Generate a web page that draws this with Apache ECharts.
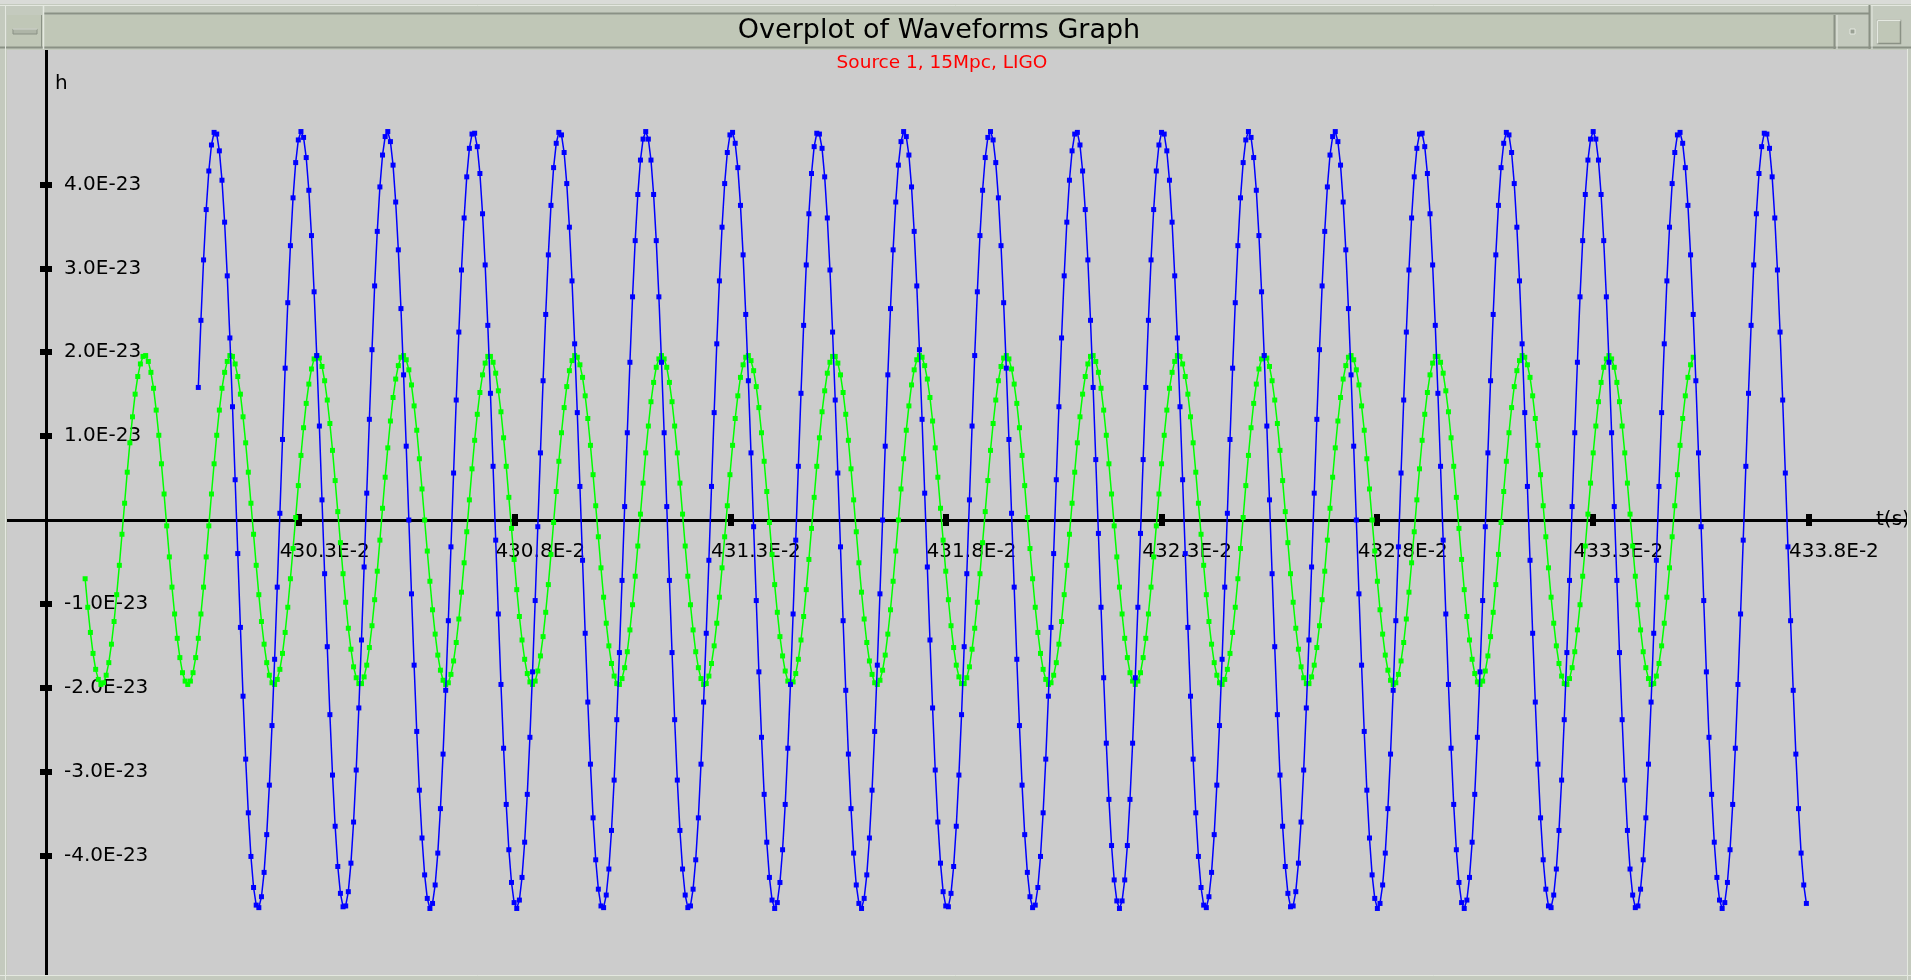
<!DOCTYPE html>
<html>
<head>
<meta charset="utf-8">
<script src="https://cdn.jsdelivr.net/npm/echarts@6/dist/echarts.min.js"></script>
<style>
html,body{margin:0;padding:0;background:#cccccc;overflow:hidden}
#chart{width:1911px;height:980px}
</style>
</head>
<body>
<div id="chart"></div>
<script>
// ---- data (strain h in units of 1E-23, sampled every 1/16384 s) ----
const chartTitle = 'Overplot of Waveforms Graph';
const chartSubtitle = 'Source 1, 15Mpc, LIGO';
const blueStartTime = 4.30066;     // s
const greenStartTime = 4.2980355;  // s
const sampleStep = 1 / 16384;      // s
const xTickValues = [4.303, 4.308, 4.313, 4.318, 4.323, 4.328, 4.333, 4.338];
const yTickValues = [-4, -3, -2, -1, 1, 2, 3, 4];

const blueStrain = [
 1.58,2.38,3.10,3.70,4.16,4.47,4.62,4.60,4.40,4.05,3.55,2.91,2.17,1.35,0.48,-0.40,-1.28,-2.10,-2.85,-3.49,-4.01,-4.38,-4.59,-4.62,-4.49,-4.20,-3.75,-3.16,-2.45,-1.66,-0.80,
 0.08,0.96,1.81,2.59,3.27,3.84,4.26,4.53,4.63,4.56,4.32,3.93,3.39,2.72,1.96,1.12,0.24,-0.64,-1.51,-2.32,-3.04,-3.65,-4.13,-4.45,-4.61,-4.60,-4.43,-4.09,-3.60,-2.98,-2.24,-1.43,-0.56,
 0.32,1.20,2.03,2.79,3.44,3.97,4.35,4.57,4.63,4.51,4.23,3.79,3.22,2.52,1.73,0.88,0.00,-0.88,-1.73,-2.52,-3.22,-3.79,-4.23,-4.51,-4.63,-4.57,-4.35,-3.97,-3.44,-2.79,-2.03,-1.20,-0.32,
 0.56,1.43,2.24,2.98,3.60,4.09,4.43,4.60,4.61,4.45,4.13,3.65,3.04,2.32,1.51,0.64,-0.24,-1.12,-1.96,-2.72,-3.39,-3.93,-4.32,-4.56,-4.63,-4.53,-4.26,-3.84,-3.27,-2.59,-1.81,-0.96,-0.08,
 0.80,1.66,2.45,3.16,3.75,4.20,4.49,4.62,4.59,4.38,4.01,3.49,2.85,2.10,1.28,0.40,-0.48,-1.35,-2.17,-2.91,-3.55,-4.05,-4.40,-4.60,-4.62,-4.47,-4.16,-3.70,-3.10,-2.38,-1.58,-0.72,
 0.16,1.04,1.88,2.66,3.33,3.88,4.29,4.54,4.63,4.54,4.29,3.88,3.33,2.66,1.88,1.04,0.16,-0.72,-1.58,-2.38,-3.10,-3.70,-4.16,-4.47,-4.62,-4.60,-4.40,-4.05,-3.55,-2.91,-2.17,-1.35,-0.48,
 0.40,1.28,2.10,2.85,3.49,4.01,4.38,4.59,4.62,4.49,4.20,3.75,3.16,2.45,1.66,0.80,-0.08,-0.96,-1.81,-2.59,-3.27,-3.84,-4.26,-4.53,-4.63,-4.56,-4.32,-3.93,-3.39,-2.72,-1.96,-1.12,-0.24,
 0.64,1.51,2.32,3.04,3.65,4.13,4.45,4.61,4.60,4.43,4.09,3.60,2.98,2.24,1.43,0.56,-0.32,-1.20,-2.03,-2.79,-3.44,-3.97,-4.35,-4.57,-4.63,-4.51,-4.23,-3.79,-3.22,-2.52,-1.73,-0.88,
 0.00,0.88,1.73,2.52,3.22,3.79,4.23,4.51,4.63,4.57,4.35,3.97,3.44,2.79,2.03,1.20,0.32,-0.56,-1.43,-2.24,-2.98,-3.60,-4.09,-4.43,-4.60,-4.61,-4.45,-4.13,-3.65,-3.04,-2.32,-1.51,-0.64,
 0.24,1.12,1.96,2.72,3.39,3.93,4.32,4.56,4.63,4.53,4.26,3.84,3.27,2.59,1.81,0.96,0.08,-0.80,-1.66,-2.45,-3.16,-3.75,-4.20,-4.49,-4.62,-4.59,-4.38,-4.01,-3.49,-2.85,-2.10,-1.28,-0.40,
 0.48,1.35,2.17,2.91,3.55,4.05,4.40,4.60,4.62,4.47,4.16,3.70,3.10,2.38,1.58,0.72,-0.16,-1.04,-1.88,-2.66,-3.33,-3.88,-4.29,-4.54,-4.63,-4.54,-4.29,-3.88,-3.33,-2.66,-1.88,-1.04,-0.16,
 0.72,1.58,2.38,3.10,3.70,4.16,4.47,4.62,4.60,4.40,4.05,3.55,2.91,2.17,1.35,0.48,-0.40,-1.28,-2.10,-2.85,-3.49,-4.01,-4.38,-4.59,-4.62,-4.49,-4.20,-3.75,-3.16,-2.45,-1.66,-0.80,
 0.08,0.96,1.81,2.59,3.27,3.84,4.26,4.53,4.63,4.56,4.32,3.93,3.39,2.72,1.96,1.12,0.24,-0.64,-1.51,-2.32,-3.04,-3.65,-4.13,-4.45,-4.61,-4.60,-4.43,-4.09,-3.60,-2.98,-2.24,-1.43,-0.56,
 0.32,1.20,2.03,2.79,3.44,3.97,4.35,4.57,4.63,4.51,4.23,3.79,3.22,2.52,1.73,0.88,0.00,-0.88,-1.73,-2.52,-3.22,-3.79,-4.23,-4.51,-4.63,-4.57,-4.35,-3.97,-3.44,-2.79,-2.03,-1.20,-0.32,
 0.56,1.43,2.24,2.98,3.60,4.09,4.43,4.60,4.61,4.45,4.13,3.65,3.04,2.32,1.51,0.64,-0.24,-1.12,-1.96,-2.72,-3.39,-3.93,-4.32,-4.56,-4.63,-4.53,-4.26,-3.84,-3.27,-2.59,-1.81,-0.96,-0.08,
 0.80,1.66,2.45,3.16,3.75,4.20,4.49,4.62,4.59,4.38,4.01,3.49,2.85,2.10,1.28,0.40,-0.48,-1.35,-2.17,-2.91,-3.55,-4.05,-4.40,-4.60,-4.62,-4.47,-4.16,-3.70,-3.10,-2.38,-1.58,-0.72,
 0.16,1.04,1.88,2.66,3.33,3.88,4.29,4.54,4.63,4.54,4.29,3.88,3.33,2.66,1.88,1.04,0.16,-0.72,-1.58,-2.38,-3.10,-3.70,-4.16,-4.47,-4.62,-4.60,-4.40,-4.05,-3.55,-2.91,-2.17,-1.35,-0.48,
 0.40,1.28,2.10,2.85,3.49,4.01,4.38,4.59,4.62,4.49,4.20,3.75,3.16,2.45,1.66,0.80,-0.08,-0.96,-1.81,-2.59,-3.27,-3.84,-4.26,-4.53,-4.63,-4.56,-4.32,-3.93,-3.39,-2.72,-1.96,-1.12,-0.24,
 0.64,1.51,2.32,3.04,3.65,4.13,4.45,4.61,4.60,4.43,4.09,3.60,2.98,2.24,1.43,0.56,-0.32,-1.20,-2.03,-2.79,-3.44,-3.97,-4.35,-4.57
];

const greenStrain = [
 -0.70,-1.04,-1.34,-1.59,-1.78,-1.90,-1.96,-1.94,-1.85,-1.70,-1.48,-1.21,-0.89,-0.54,-0.17,
 0.20,0.57,0.92,1.23,1.50,1.71,1.86,1.95,1.96,1.89,1.76,1.57,1.31,1.01,0.67,0.31,-0.07,-0.44,-0.80,-1.12,-1.41,-1.64,-1.82,-1.92,-1.96,-1.92,-1.82,-1.64,-1.41,-1.12,-0.80,-0.44,-0.07,
 0.31,0.67,1.01,1.31,1.57,1.76,1.89,1.96,1.95,1.86,1.71,1.50,1.23,0.92,0.57,0.20,-0.17,-0.54,-0.89,-1.21,-1.48,-1.70,-1.85,-1.94,-1.96,-1.90,-1.78,-1.59,-1.34,-1.04,-0.70,-0.34,
 0.03,0.41,0.77,1.10,1.39,1.62,1.80,1.92,1.96,1.93,1.83,1.66,1.43,1.15,0.83,0.47,0.10,-0.27,-0.64,-0.98,-1.29,-1.54,-1.75,-1.88,-1.95,-1.95,-1.87,-1.73,-1.52,-1.26,-0.95,-0.61,-0.24,
 0.14,0.51,0.86,1.18,1.46,1.68,1.84,1.94,1.96,1.91,1.79,1.61,1.36,1.07,0.73,0.37,0.00,-0.37,-0.73,-1.07,-1.36,-1.61,-1.79,-1.91,-1.96,-1.94,-1.84,-1.68,-1.46,-1.18,-0.86,-0.51,-0.14,
 0.24,0.61,0.95,1.26,1.52,1.73,1.87,1.95,1.95,1.88,1.75,1.54,1.29,0.98,0.64,0.27,-0.10,-0.47,-0.83,-1.15,-1.43,-1.66,-1.83,-1.93,-1.96,-1.92,-1.80,-1.62,-1.39,-1.10,-0.77,-0.41,-0.03,
 0.34,0.70,1.04,1.34,1.59,1.78,1.90,1.96,1.94,1.85,1.70,1.48,1.21,0.89,0.54,0.17,-0.20,-0.57,-0.92,-1.23,-1.50,-1.71,-1.86,-1.95,-1.96,-1.89,-1.76,-1.57,-1.31,-1.01,-0.67,-0.31,
 0.07,0.44,0.80,1.12,1.41,1.64,1.82,1.92,1.96,1.92,1.82,1.64,1.41,1.12,0.80,0.44,0.07,-0.31,-0.67,-1.01,-1.31,-1.57,-1.76,-1.89,-1.96,-1.95,-1.86,-1.71,-1.50,-1.23,-0.92,-0.57,-0.20,
 0.17,0.54,0.89,1.21,1.48,1.70,1.85,1.94,1.96,1.90,1.78,1.59,1.34,1.04,0.70,0.34,-0.03,-0.41,-0.77,-1.10,-1.39,-1.62,-1.80,-1.92,-1.96,-1.93,-1.83,-1.66,-1.43,-1.15,-0.83,-0.47,-0.10,
 0.27,0.64,0.98,1.29,1.54,1.75,1.88,1.95,1.95,1.87,1.73,1.52,1.26,0.95,0.61,0.24,-0.14,-0.51,-0.86,-1.18,-1.46,-1.68,-1.84,-1.94,-1.96,-1.91,-1.79,-1.61,-1.36,-1.07,-0.73,-0.37,
 0.00,0.37,0.73,1.07,1.36,1.61,1.79,1.91,1.96,1.94,1.84,1.68,1.46,1.18,0.86,0.51,0.14,-0.24,-0.61,-0.95,-1.26,-1.52,-1.73,-1.87,-1.95,-1.95,-1.88,-1.75,-1.54,-1.29,-0.98,-0.64,-0.27,
 0.10,0.47,0.83,1.15,1.43,1.66,1.83,1.93,1.96,1.92,1.80,1.62,1.39,1.10,0.77,0.41,0.03,-0.34,-0.70,-1.04,-1.34,-1.59,-1.78,-1.90,-1.96,-1.94,-1.85,-1.70,-1.48,-1.21,-0.89,-0.54,-0.17,
 0.20,0.57,0.92,1.23,1.50,1.71,1.86,1.95,1.96,1.89,1.76,1.57,1.31,1.01,0.67,0.31,-0.07,-0.44,-0.80,-1.12,-1.41,-1.64,-1.82,-1.92,-1.96,-1.92,-1.82,-1.64,-1.41,-1.12,-0.80,-0.44,-0.07,
 0.31,0.67,1.01,1.31,1.57,1.76,1.89,1.96,1.95,1.86,1.71,1.50,1.23,0.92,0.57,0.20,-0.17,-0.54,-0.89,-1.21,-1.48,-1.70,-1.85,-1.94,-1.96,-1.90,-1.78,-1.59,-1.34,-1.04,-0.70,-0.34,
 0.03,0.41,0.77,1.10,1.39,1.62,1.80,1.92,1.96,1.93,1.83,1.66,1.43,1.15,0.83,0.47,0.10,-0.27,-0.64,-0.98,-1.29,-1.54,-1.75,-1.88,-1.95,-1.95,-1.87,-1.73,-1.52,-1.26,-0.95,-0.61,-0.24,
 0.14,0.51,0.86,1.18,1.46,1.68,1.84,1.94,1.96,1.91,1.79,1.61,1.36,1.07,0.73,0.37,0.00,-0.37,-0.73,-1.07,-1.36,-1.61,-1.79,-1.91,-1.96,-1.94,-1.84,-1.68,-1.46,-1.18,-0.86,-0.51,-0.14,
 0.24,0.61,0.95,1.26,1.52,1.73,1.87,1.95,1.95,1.88,1.75,1.54,1.29,0.98,0.64,0.27,-0.10,-0.47,-0.83,-1.15,-1.43,-1.66,-1.83,-1.93,-1.96,-1.92,-1.80,-1.62,-1.39,-1.10,-0.77,-0.41,-0.03,
 0.34,0.70,1.04,1.34,1.59,1.78,1.90,1.96,1.94,1.85,1.70,1.48,1.21,0.89,0.54,0.17,-0.20,-0.57,-0.92,-1.23,-1.50,-1.71,-1.86,-1.95,-1.96,-1.89,-1.76,-1.57,-1.31,-1.01,-0.67,-0.31,
 0.07,0.44,0.80,1.12,1.41,1.64,1.82,1.92,1.96,1.92,1.82,1.64,1.41,1.12,0.80,0.44,0.07,-0.31,-0.67,-1.01,-1.31,-1.57,-1.76,-1.89,-1.96,-1.95,-1.86,-1.71,-1.50,-1.23,-0.92,-0.57,-0.20,
 0.17,0.54,0.89,1.21,1.48,1.70,1.85,1.94
];

// ---- chart ----
function toPairs(start, arr) {
  return arr.map(function (v, i) { return [start + i * sampleStep, v]; });
}

const FONT = '"DejaVu Sans", sans-serif';
const X_MIN = 4.2962236, X_MAX = 4.340286;
const Y_MIN = -5.423, Y_MAX = 5.602;
const GRID_TOP = 50, GRID_BOTTOM = 5, CANVAS_H = 980;
// distance (px) from the grid bottom edge up to the h = 0 line
const zeroLift = (CANVAS_H - GRID_TOP - GRID_BOTTOM) * (0 - Y_MIN) / (Y_MAX - Y_MIN);
const frameFill = '#c4cabe', barFill = '#c0c7b7', dark = '#8a9185', light = '#e4e8e0';

const chart = echarts.init(document.getElementById('chart'), null, { renderer: 'canvas' });

const option = {
  backgroundColor: '#cccccc',
  animation: false,
  grid: { left: 7, right: 4, top: GRID_TOP, bottom: GRID_BOTTOM, containLabel: false, outerBoundsMode: 'none' },
  xAxis: [
    {
      type: 'value', min: X_MIN, max: X_MAX, position: 'bottom', offset: -zeroLift,
      axisLine: { show: true, onZero: false, lineStyle: { color: '#000', width: 3 } },
      axisTick: { show: true, inside: false, length: 6, customValues: xTickValues, lineStyle: { color: '#000', width: 6 } },
      axisLabel: {
        show: true, customValues: xTickValues,
        formatter: function (v) { return (v * 100).toFixed(1) + 'E-2'; },
        color: '#000', fontFamily: FONT, fontSize: 20, margin: 22, padding: [0, 0, 0, 51]
      },
      splitLine: { show: false },
      name: 't(s)', nameLocation: 'end', nameGap: -31,
      nameTextStyle: { color: '#000', fontFamily: FONT, fontSize: 20, align: 'left', verticalAlign: 'middle', padding: [0, 0, 28, 0] }
    },
    {
      type: 'value', min: X_MIN, max: X_MAX, position: 'bottom', offset: -zeroLift,
      axisLine: { show: false, onZero: false },
      axisTick: { show: true, inside: true, length: 6, customValues: xTickValues, lineStyle: { color: '#000', width: 6 } },
      axisLabel: { show: false },
      splitLine: { show: false }
    }
  ],
  yAxis: [
    {
      type: 'value', min: Y_MIN, max: Y_MAX, position: 'left', offset: -39,
      axisLine: { show: true, onZero: false, lineStyle: { color: '#000', width: 3 } },
      axisTick: { show: true, inside: false, length: 6, customValues: yTickValues, lineStyle: { color: '#000', width: 6 } },
      axisLabel: {
        show: true, inside: true, customValues: yTickValues,
        formatter: function (v) { return v.toFixed(1) + 'E-23'; },
        color: '#000', fontFamily: FONT, fontSize: 20, margin: 18, padding: [0, 0, 13, 0]
      },
      splitLine: { show: false },
      name: 'h', nameLocation: 'end', nameGap: -34,
      nameTextStyle: { color: '#000', fontFamily: FONT, fontSize: 20, align: 'left', verticalAlign: 'middle', padding: [0, 0, 0, 9] }
    },
    {
      type: 'value', min: Y_MIN, max: Y_MAX, position: 'left', offset: -39,
      axisLine: { show: false, onZero: false },
      axisTick: { show: true, inside: true, length: 6, customValues: yTickValues, lineStyle: { color: '#000', width: 6 } },
      axisLabel: { show: false },
      splitLine: { show: false }
    }
  ],
  series: [
    {
      type: 'line', name: 'green', xAxisIndex: 0, yAxisIndex: 0,
      data: toPairs(greenStartTime, greenStrain),
      symbol: 'rect', symbolSize: 5, showSymbol: true, showAllSymbol: true,
      itemStyle: { color: '#00ff00' }, lineStyle: { color: '#00ff00', width: 1.5 },
      silent: true, z: 2
    },
    {
      type: 'line', name: 'blue', xAxisIndex: 0, yAxisIndex: 0,
      data: toPairs(blueStartTime, blueStrain),
      symbol: 'rect', symbolSize: 5, showSymbol: true, showAllSymbol: true,
      itemStyle: { color: '#0000ff' }, lineStyle: { color: '#0000ff', width: 1.5 },
      silent: true, z: 3
    }
  ],
  graphic: [
    // window chrome
    { type: 'rect', z: 100, silent: true, shape: { x: 0, y: 0, width: 1911, height: 5 }, style: { fill: '#d9dbd7' } },
    { type: 'rect', z: 100, silent: true, shape: { x: 0, y: 4, width: 1911, height: 46 }, style: { fill: frameFill } },
    { type: 'rect', z: 100, silent: true, shape: { x: 7, y: 15, width: 1827, height: 33 }, style: { fill: barFill } },
    { type: 'line', z: 101, silent: true, shape: { x1: 0, y1: 5.5, x2: 1911, y2: 5.5 }, style: { stroke: light, lineWidth: 1 } },
    { type: 'line', z: 101, silent: true, shape: { x1: 43, y1: 13.5, x2: 1869, y2: 13.5 }, style: { stroke: dark, lineWidth: 2 } },
    { type: 'line', z: 101, silent: true, shape: { x1: 0, y1: 47.5, x2: 1911, y2: 47.5 }, style: { stroke: dark, lineWidth: 2 } },
    { type: 'line', z: 101, silent: true, shape: { x1: 5.5, y1: 5, x2: 5.5, y2: 980 }, style: { stroke: light, lineWidth: 1 } },
    { type: 'line', z: 101, silent: true, shape: { x1: 41.5, y1: 15, x2: 41.5, y2: 47 }, style: { stroke: dark, lineWidth: 1 } },
    { type: 'line', z: 101, silent: true, shape: { x1: 43.5, y1: 5, x2: 43.5, y2: 49 }, style: { stroke: light, lineWidth: 1.5 } },
    { type: 'rect', z: 101, silent: true, shape: { x: 13, y: 29, width: 24, height: 5 }, style: { fill: '#aeb5a7', stroke: dark, lineWidth: 1 } },
    { type: 'line', z: 102, silent: true, shape: { x1: 13, y1: 29, x2: 37, y2: 29 }, style: { stroke: light, lineWidth: 1 } },
    { type: 'line', z: 101, silent: true, shape: { x1: 1834.5, y1: 15, x2: 1834.5, y2: 49 }, style: { stroke: dark, lineWidth: 2 } },
    { type: 'line', z: 101, silent: true, shape: { x1: 1837, y1: 15, x2: 1837, y2: 49 }, style: { stroke: light, lineWidth: 1 } },
    { type: 'line', z: 101, silent: true, shape: { x1: 1869.5, y1: 5, x2: 1869.5, y2: 49 }, style: { stroke: dark, lineWidth: 2 } },
    { type: 'line', z: 101, silent: true, shape: { x1: 1872, y1: 5, x2: 1872, y2: 49 }, style: { stroke: light, lineWidth: 1 } },
    { type: 'rect', z: 101, silent: true, shape: { x: 1850, y: 29, width: 5, height: 5 }, style: { fill: '#9aa194', stroke: light, lineWidth: 1 } },
    { type: 'rect', z: 101, silent: true, shape: { x: 1877.5, y: 20.5, width: 23, height: 23 }, style: { fill: barFill, stroke: dark, lineWidth: 1.5 } },
    { type: 'line', z: 102, silent: true, shape: { x1: 1877.5, y1: 20.5, x2: 1900.5, y2: 20.5 }, style: { stroke: light, lineWidth: 1.5 } },
    { type: 'line', z: 102, silent: true, shape: { x1: 1877.5, y1: 20.5, x2: 1877.5, y2: 43.5 }, style: { stroke: light, lineWidth: 1.5 } },
    { type: 'rect', z: 100, silent: true, shape: { x: 0, y: 49, width: 7, height: 931 }, style: { fill: frameFill } },
    { type: 'line', z: 101, silent: true, shape: { x1: 5.5, y1: 49, x2: 5.5, y2: 980 }, style: { stroke: light, lineWidth: 1 } },
    { type: 'rect', z: 100, silent: true, shape: { x: 1907, y: 49, width: 4, height: 931 }, style: { fill: frameFill } },
    { type: 'line', z: 101, silent: true, shape: { x1: 1907.5, y1: 49, x2: 1907.5, y2: 980 }, style: { stroke: light, lineWidth: 1 } },
    { type: 'rect', z: 100, silent: true, shape: { x: 0, y: 975, width: 1911, height: 5 }, style: { fill: frameFill } },
    { type: 'line', z: 101, silent: true, shape: { x1: 0, y1: 975.5, x2: 1911, y2: 975.5 }, style: { stroke: light, lineWidth: 1 } },
    // titles
    { type: 'text', z: 110, silent: true, x: 939, y: 31,
      style: { text: chartTitle, fill: '#000', font: '27px "DejaVu Sans", sans-serif', align: 'center', verticalAlign: 'middle' } },
    { type: 'text', z: 110, silent: true, x: 942, y: 63,
      style: { text: chartSubtitle, fill: '#ff0000', font: '18.5px "DejaVu Sans", sans-serif', align: 'center', verticalAlign: 'middle' } }
  ]
};

chart.setOption(option);
</script>
</body>
</html>
